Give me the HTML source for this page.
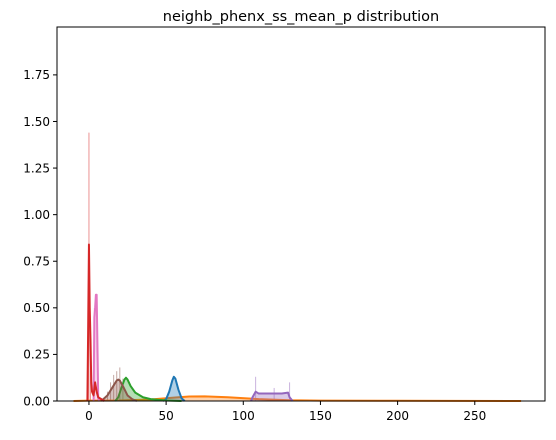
<!DOCTYPE html>
<html><head><meta charset="utf-8"><style>
body{margin:0;background:#fff;font-family:"Liberation Sans",sans-serif}
svg text{font-family:"DejaVu Sans","Liberation Sans",sans-serif}
</style></head><body>
<svg id="c" width="556" height="435">
<text x="301" y="21" font-size="14.5" text-anchor="middle">neighb_phenx_ss_mean_p distribution</text>
<g id="plot"></g>
<g id="axes"></g>
</svg>
<script>
const xTicks=[0,50,100,150,200,250];
const yTicks=[0,0.25,0.5,0.75,1.0,1.25,1.5,1.75];
const yTickLabels=["0.00","0.25","0.50","0.75","1.00","1.25","1.50","1.75"];
const seriesNames=["blue","orange","green","red","purple","brown","pink"];
const blueX=[48,50,52,54,55,56,58,60,62];
const blueY=[0,0.01,0.05,0.11,0.13,0.12,0.06,0.015,0];
const orangeX=[-10,0,20,40,55,65,75,90,110,130,150,200,280];
const orangeY=[0,0.002,0.003,0.008,0.018,0.024,0.025,0.02,0.01,0.004,0.002,0.001,0];
const greenX=[17,19,21,23,24,25,27,30,35,40,50,60];
const greenY=[0,0.02,0.07,0.115,0.125,0.115,0.08,0.045,0.02,0.01,0.003,0];
const redX=[-1,-0.5,0,0.5,1,1.5,2,3,4,5,6,8,10];
const redY=[0,0.4,0.84,0.5,0.33,0.1,0.05,0.03,0.1,0.05,0.02,0.01,0];
const purpleX=[105,106,108,110,115,120,125,129,130,132];
const purpleY=[0,0.02,0.05,0.04,0.04,0.04,0.04,0.045,0.02,0];
const brownX=[8,12,15,18,19,20,22,25,28,31];
const brownY=[0,0.03,0.07,0.11,0.115,0.11,0.08,0.03,0.01,0];
const pinkX=[3,3.5,4,4.5,5,5.5,6,6.5];
const pinkY=[0,0.45,0.5,0.57,0.57,0.3,0.02,0];
const redBarX=[0,1,3];
const redBarY=[1.44,0.3,0.1];
const pinkBarX=[3.5,4.5,5.5];
const pinkBarY=[0.5,0.57,0.2];
const brownBarX=[12,14,16,18,20,22];
const brownBarY=[0.05,0.1,0.14,0.16,0.18,0.12];
const purpleBarX=[108,120,130];
const purpleBarY=[0.13,0.07,0.1];

const L=57,R=545,T=27,B=401;
const xMin=-20.7,xMax=295.5,yMin=0,yMax=2.007;
const sx=v=>L+(v-xMin)/(xMax-xMin)*(R-L);
const sy=v=>B-(v-yMin)/(yMax-yMin)*(B-T);
const NS="http://www.w3.org/2000/svg";
const plot=document.getElementById('plot'),axes=document.getElementById('axes');
function mk(tag,attrs,parent){const e=document.createElementNS(NS,tag);for(const k in attrs)e.setAttribute(k,attrs[k]);parent.appendChild(e);return e;}

function bars(xs,ys,color,name){
  xs.forEach((x,i)=>{
    const e=mk('line',{x1:sx(x),x2:sx(x),y1:sy(0),y2:sy(ys[i]),stroke:color,'stroke-width':1,'stroke-opacity':0.5},plot);
    
    
  });
}
function curve(xs,ys,color,fill,name){
  const pts=xs.map((x,i)=>sx(x).toFixed(2)+','+sy(ys[i]).toFixed(2));
  if(fill){
    const a=mk('polygon',{points:sx(xs[0])+','+sy(0)+' '+pts.join(' ')+' '+sx(xs[xs.length-1])+','+sy(0),fill:color,'fill-opacity':0.35,stroke:'none'},plot);
    
    
  }
  const l=mk('polyline',{points:pts.join(' '),fill:'none',stroke:color,'stroke-width':2,'stroke-linejoin':'round'},plot);
  
  
}
bars(redBarX,redBarY,'#d62728','red');
bars(pinkBarX,pinkBarY,'#e377c2','pink');
bars(brownBarX,brownBarY,'#8c564b','brown');
bars(purpleBarX,purpleBarY,'#9467bd','purple');
curve(orangeX,orangeY,'#ff7f0e',true,'orange');
curve(blueX,blueY,'#1f77b4',true,'blue');
curve(greenX,greenY,'#2ca02c',true,'green');
curve(brownX,brownY,'#8c564b',true,'brown');
curve(purpleX,purpleY,'#9467bd',true,'purple');
curve(pinkX,pinkY,'#e377c2',false,'pink');
curve(redX,redY,'#d62728',false,'red');

const fr=mk('rect',{x:L,y:T,width:R-L,height:B-T,fill:'none',stroke:'#000','stroke-width':1},axes);


xTicks.forEach(v=>{
  const t=mk('line',{x1:sx(v),x2:sx(v),y1:B,y2:B+4,stroke:'#000'},axes);
  
  
  const tx=mk('text',{x:sx(v),y:B+19,'font-size':12,'text-anchor':'middle'},axes);
  tx.textContent=v;
  
  
});
yTicks.forEach((v,i)=>{
  const t=mk('line',{x1:L-4,x2:L,y1:sy(v),y2:sy(v),stroke:'#000'},axes);
  
  
  const tx=mk('text',{x:L-7,y:sy(v)+4.3,'font-size':12,'text-anchor':'end'},axes);
  tx.textContent=yTickLabels[i];
  
  
});
</script>
</body></html>
